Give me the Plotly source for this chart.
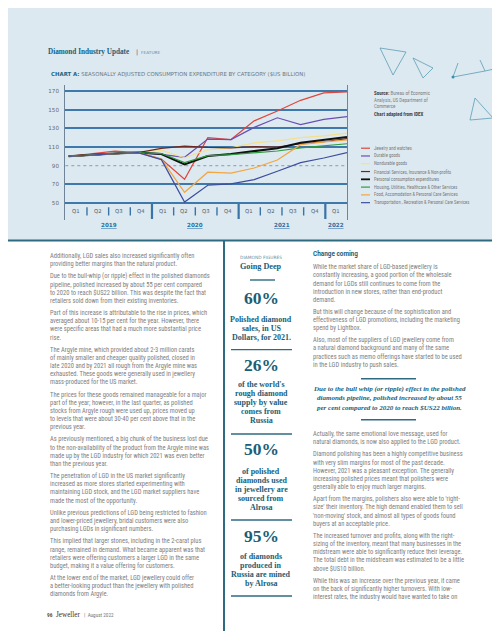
import plotly.graph_objects as go

W, H = 500, 631

# ---------------- data ----------------
quarters = ["Q1", "Q2", "Q3", "Q4", "Q1", "Q2", "Q3", "Q4", "Q1", "Q2", "Q3", "Q4", "Q1"]
years = ["2019", "2020", "2021", "2022"]
year_quarter_counts = [4, 4, 4, 1]

series_names = [
    "Jewelry and watches",
    "Durable goods",
    "Nondurable goods",
    "Financial Services, Insurance & Non-profits",
    "Personal consumption expenditures",
    "Housing, Utilities, Healthcare & Other Services",
    "Food, Accomodation & Personal Care Services",
    "Transportation , Recreation & Personal Care Services",
]
jewelry = [100, 103, 105.5, 104, 97, 75.5, 120, 118, 138, 148.5, 160, 168, 169]
durable = [100, 101.8, 103, 104, 102, 99, 118.5, 118, 131, 141.3, 134, 139.6, 142.5]
nondurable = [100, 101.8, 103, 104, 106.4, 98.5, 107, 109, 114.5, 116.5, 120, 122, 124.8]
financial = [100, 101.8, 103, 104, 108.5, 111, 109.5, 109, 110.5, 110, 113.5, 115.6, 119]
pce = [100, 101.8, 103, 104, 102.5, 91.4, 100.3, 102.5, 105.7, 108.7, 114.6, 117.4, 120.8]
housing = [100, 101.8, 103, 104, 103, 93.2, 100.8, 101.8, 104, 105.7, 109, 111, 113.5]
food = [100, 101.8, 103, 104, 97, 61.5, 83, 82, 87.5, 96, 112.5, 115.5, 117.5]
transport = [100, 101.8, 103, 104, 96.5, 51, 69, 70.5, 75, 84, 93.2, 98.2, 104]
series_values = [jewelry, durable, nondurable, financial, pce, housing, food, transport]
y_ticks = [50, 70, 90, 110, 130, 150, 170]

colors = ["#e0463c", "#6a4fb3", "#f2e08e", "#6e2a22", "#111111", "#2e9c3e", "#f3a540", "#3d4f9c"]
widths = [1.2, 1.2, 1.2, 1.2, 2.0, 1.2, 1.2, 1.2]

# ---------------- helpers ----------------
def X(px):
    return px / W

def Y(py):
    return 1 - py / H

BODY = "Liberation Sans Narrow, Arial Narrow, Roboto Condensed, Roboto, sans-serif"
SERIF = "Liberation Serif, DejaVu Serif, serif"
TEAL = "#1b5e76"
GRAY = "#7e7e7e"

annotations = []
shapes = []

def txt(x, y, s, size, color=GRAY, family=BODY, anchor="left"):
    annotations.append(dict(x=X(x), y=Y(y), xref="paper", yref="paper", text=s,
                            showarrow=False, xanchor=anchor, yanchor="middle",
                            font=dict(size=size, color=color, family=family)))

def hline(x0, x1, y, color, width, dash="solid"):
    shapes.append(dict(type="line", xref="paper", yref="paper", x0=X(x0), x1=X(x1),
                       y0=Y(y), y1=Y(y), line=dict(color=color, width=width, dash=dash)))

def seg(x0, y0, x1, y1, color, width):
    shapes.append(dict(type="line", xref="paper", yref="paper", x0=X(x0), x1=X(x1),
                       y0=Y(y0), y1=Y(y1), line=dict(color=color, width=width)))

def paragraphs(paras, x, y0, pitch=8.15, gap=4.1, size=6.5, color=GRAY):
    y = y0
    for p in paras:
        for line in p:
            txt(x, y, line, size, color)
            y += pitch
        y += gap

# ---------------- chart geometry ----------------
k = 112 / 120.0            # px per unit
def val_at(py):
    return 50 + (195 - py) / k

x_dom = [X(57.3), X(339)]
y_dom = [Y(212), Y(77)]
n = len(quarters)
xpos = [0.15 + i * 12.85 / (n - 1) for i in range(n)]

fig = go.Figure()
for name, vals, c, w in zip(series_names, series_values, colors, widths):
    fig.add_trace(go.Scatter(x=xpos, y=vals, mode="lines", name=name,
                             line=dict(color=c, width=w), showlegend=False,
                             hoverinfo="skip"))

# background blue panel & bottom rule
shapes.append(dict(type="rect", xref="paper", yref="paper", x0=0, x1=1, y0=Y(232), y1=1,
                   fillcolor="#dde9f1", line=dict(width=0), layer="below"))
hline(0, 500, 232.5, "#2f6b80", 2)

# dotted 90 line
shapes.append(dict(type="line", xref="x domain", yref="y", x0=0, x1=1, y0=90, y1=90,
                   line=dict(color="#9aabb8", width=1.1, dash="dot"), layer="below"))

# quarter labels and separators
for i, q in enumerate(quarters):
    annotations.append(dict(x=i + 0.5, y=Y(203.3), xref="x", yref="paper", text=q,
                            showarrow=False, xanchor="center", yanchor="middle",
                            font=dict(size=5.3, color="#4d5a66", family="DejaVu Sans")))
boundaries = []
acc = 0
for cnt in year_quarter_counts:
    acc += cnt
    boundaries.append(acc)
for b in range(1, n):
    if b in boundaries:
        shapes.append(dict(type="line", xref="x", yref="paper", x0=b, x1=b,
                           y0=Y(211), y1=Y(196), line=dict(color="#3a73a6", width=2.2)))
    else:
        shapes.append(dict(type="line", xref="x", yref="paper", x0=b, x1=b,
                           y0=Y(207.5), y1=Y(199.3), line=dict(color="#3a73a6", width=1.4)))
start = 0
for yname, cnt in zip(years, year_quarter_counts):
    annotations.append(dict(x=start + cnt / 2.0, y=Y(216.8), xref="x", yref="paper",
                            text="<b><u>%s</u></b>" % yname, showarrow=False,
                            xanchor="center", yanchor="middle",
                            font=dict(size=5.6, color="#2b6fa3", family="DejaVu Sans")))
    start += cnt

# ---------------- legend (manual) ----------------
leg_y0, leg_pitch = 140.2, 7.78
for i, (name, c) in enumerate(zip(series_names, colors)):
    yy = leg_y0 + i * leg_pitch
    seg(353, yy, 362, yy, c, 1.8 if i == 4 else 1.2)
    txt(364, yy, name, 4.6, "#7a7a7a")

# ---------------- header & title ----------------
txt(38, 44, "<b>Diamond Industry Update</b>", 7.2, "#17607a", SERIF)
txt(126, 44, "|", 6, "#17607a", "DejaVu Sans")
txt(130.5, 44.3, "FEATURE", 4.3, "#7c8790", "DejaVu Sans")
txt(41, 66.2, "<b><span style='color:#1d6580'>CHART A:</span></b> SEASONALLY ADJUSTED CONSUMPTION EXPENDITURE BY CATEGORY ($US BILLION)",
    5.4, "#6d7880", "DejaVu Sans")

# source block
txt(364, 85, "<b><span style='color:#444'>Source:</span></b> Bureau of Economic", 5.0, "#808080")
txt(364, 91.7, "Analysis, US Department of", 5.0, "#808080")
txt(364, 98.3, "Commerce", 5.0, "#808080")
txt(364, 105.5, "<b>Chart adapted from IDEX</b>", 5.0, "#444")

# decorative triangles
DEC = "#5b9db3"
for (a, b) in [((372, 40), (385, 67)), ((385, 67), (398, 44)), ((372, 40), (398, 44)),
               ((405, 50), (415, 70)), ((415, 70), (425, 60)), ((405, 50), (425, 60)),
               ((445, 69), (450, 55)), ((445, 69), (477, 63)), ((477, 63), (500, 58)),
               ((477, 63), (472, 52)),
               ((467, 90), (485, 110)), ((485, 110), (462, 112)), ((462, 112), (467, 90))]:
    seg(a[0], a[1], b[0], b[1], DEC, 0.8)
shapes.append(dict(type="circle", xref="paper", yref="paper", x0=X(443.5), x1=X(446.5),
                   y0=Y(70.5), y1=Y(67.5), fillcolor="#3f8ea8", line=dict(width=0)))

# ---------------- left column ----------------
left_paras = [
    ["Additionally, LGD sales also increased significantly often",
     "providing better margins than the natural product."],
    ["Due to the bull-whip (or ripple) effect in the polished diamonds",
     "pipeline, polished increased by about 55 per cent compared",
     "to 2020 to reach $US22 billion. This was despite the fact that",
     "retailers sold down from their existing inventories."],
    ["Part of this increase is attributable to the rise in prices, which",
     "averaged about 10-15 per cent for the year. However, there",
     "were specific areas that had a much more substantial price",
     "rise."],
    ["The Argyle mine, which provided about 2-3 million carats",
     "of mainly smaller and cheaper quality polished, closed in",
     "late 2020 and by 2021 all rough from the Argyle mine was",
     "exhausted. These goods were generally used in jewellery",
     "mass-produced for the US market."],
    ["The prices for these goods remained manageable for a major",
     "part of the year; however, in the last quarter, as polished",
     "stocks from Argyle rough were used up, prices moved up",
     "to levels that were about 30-40 per cent above that in the",
     "previous year."],
    ["As previously mentioned, a big chunk of the business lost due",
     "to the non-availability of the product from the Argyle mine was",
     "made up by the LGD industry for which 2021 was even better",
     "than the previous year."],
    ["The penetration of LGD in the US market significantly",
     "increased as more stores started experimenting with",
     "maintaining LGD stock, and the LGD market suppliers have",
     "made the most of the opportunity."],
    ["Unlike previous predictions of LGD being restricted to fashion",
     "and lower-priced jewellery, bridal customers were also",
     "purchasing LGDs in significant numbers."],
    ["This implied that larger stones, including in the 2-carat plus",
     "range, remained in demand. What became apparent was that",
     "retailers were offering customers a larger LGD in the same",
     "budget, making it a value offering for customers."],
    ["At the lower end of the market, LGD jewellery could offer",
     "a better-looking product than the jewellery with polished",
     "diamonds from Argyle."],
]
paragraphs(left_paras, 40, 248)

# footer
txt(37, 607.3, "<b>96</b>", 5.4, "#555")
txt(46, 607.3, "Jeweller", 7.2, "#333", SERIF)
txt(74, 607.3, "|  August 2022", 5.2, "#777")

# ---------------- middle column ----------------
shapes.append(dict(type="line", xref="paper", yref="paper", x0=X(216), x1=X(216),
                   y0=Y(631), y1=Y(233), line=dict(color="#2f6b80", width=2)))
CX = 253
txt(CX, 249, "DIAMOND FIGURES", 4.4, "#6b8f9c", "DejaVu Sans", "center")
txt(CX, 258.3, "<b>Going Deep</b>", 8.2, TEAL, SERIF, "center")
hline(242, 267, 272, "#2f6b80", 1.4)
figures = [
    ("60%", 290, ["Polished diamond", "sales, in US", "Dollars, for 2021."], 311, 341.7),
    ("26%", 356.7, ["of the world's", "rough diamond", "supply by value", "comes from", "Russia"], 376.7, 426),
    ("50%", 440.7, ["of polished", "diamonds used", "in jewellery are", "sourced from", "Alrosa"], 463, 512),
    ("95%", 527.7, ["of diamonds", "produced in", "Russia are mined", "by Alrosa"], 548, 588),
]
for big, by, lines, ly0, divy in figures:
    txt(CX, by, "<b>%s</b>" % big, 17.5, TEAL, SERIF, "center")
    for j, l in enumerate(lines):
        txt(CX, ly0 + j * 9.05, "<b>%s</b>" % l, 8.0, TEAL, SERIF, "center")
    hline(223, 284, divy, "#2f6b80", 1.3)

# ---------------- right column ----------------
txt(303, 246, "<b>Change coming</b>", 6.4, TEAL, "Roboto, sans-serif")
right_paras_a = [
    ["While the market share of LGD-based jewellery is",
     "constantly increasing, a good portion of the wholesale",
     "demand for LGDs still continues to come from the",
     "introduction in new stores, rather than end-product",
     "demand."],
    ["But this will change because of the sophistication and",
     "effectiveness of LGD promotions, including the marketing",
     "spend by Lightbox."],
    ["Also, most of the suppliers of LGD jewellery come from",
     "a natural diamond background and many of the same",
     "practices such as memo offerings have started to be used",
     "in the LGD industry to push sales."],
]
paragraphs(right_paras_a, 303, 259.3, pitch=8.1)

hline(353, 408, 370.7, "#2f6b80", 1.4)
quote = ["Due to the bull whip (or ripple) effect in the polished",
         "diamonds pipeline, polished increased by about 55",
         "per cent compared to 2020 to reach $US22 billion."]
for j, l in enumerate(quote):
    txt(381, 380.7 + j * 9.65, "<b><i>%s</i></b>" % l, 7.0, TEAL, SERIF, "center")
hline(353, 408, 411.7, "#2f6b80", 1.4)

right_paras_b = [
    ["Actually, the same emotional love message, used for",
     "natural diamonds, is now also applied to the LGD product."],
    ["Diamond polishing has been a highly competitive business",
     "with very slim margins for most of the past decade.",
     "However, 2021 was a pleasant exception. The generally",
     "increasing polished prices meant that polishers were",
     "generally able to enjoy much larger margins."],
    ["Apart from the margins, polishers also were able to 'right-",
     "size' their inventory. The high demand enabled them to sell",
     "'non-moving' stock, and almost all types of goods found",
     "buyers at an acceptable price."],
    ["The increased turnover and profits, along with the right-",
     "sizing of the inventory, meant that many businesses in the",
     "midstream were able to significantly reduce their leverage.",
     "The total debt in the midstream was estimated to be a little",
     "above $US10 billion."],
    ["While this was an increase over the previous year, it came",
     "on the back of significantly higher turnovers. With low-",
     "interest rates, the industry would have wanted to take on"],
]
paragraphs(right_paras_b, 303, 426)

# page edge
shapes.append(dict(type="line", xref="paper", yref="paper", x0=X(499.3), x1=X(499.3),
                   y0=Y(523), y1=Y(232), line=dict(color="#cfcfcf", width=1)))
shapes.append(dict(type="line", xref="paper", yref="paper", x0=X(499.3), x1=X(499.3),
                   y0=Y(631), y1=Y(523), line=dict(color="#222", width=1.3)))

fig.update_layout(
    width=W, height=H, margin=dict(l=0, r=0, t=0, b=0),
    paper_bgcolor="white", plot_bgcolor="rgba(0,0,0,0)",
    annotations=annotations, shapes=shapes, showlegend=False,
    xaxis=dict(domain=x_dom, range=[0, 13], visible=False, fixedrange=True),
    yaxis=dict(domain=y_dom, range=[val_at(212), val_at(77)],
               tickmode="array", tickvals=y_ticks, ticks="", showgrid=False,
               zeroline=False, showline=True, mirror=True, linecolor="#6e8599",
               linewidth=1.4, tickfont=dict(size=5.6, color="#6a6a6a", family="DejaVu Sans"),
               ticklabelstandoff=4,
               minor=dict(tickmode="array", tickvals=[v for v in y_ticks if v != 90],
                          showgrid=True, gridcolor="#3f78ab", gridwidth=1.6, ticks=""),
               fixedrange=True),
)
fig.write_html("out.html")
